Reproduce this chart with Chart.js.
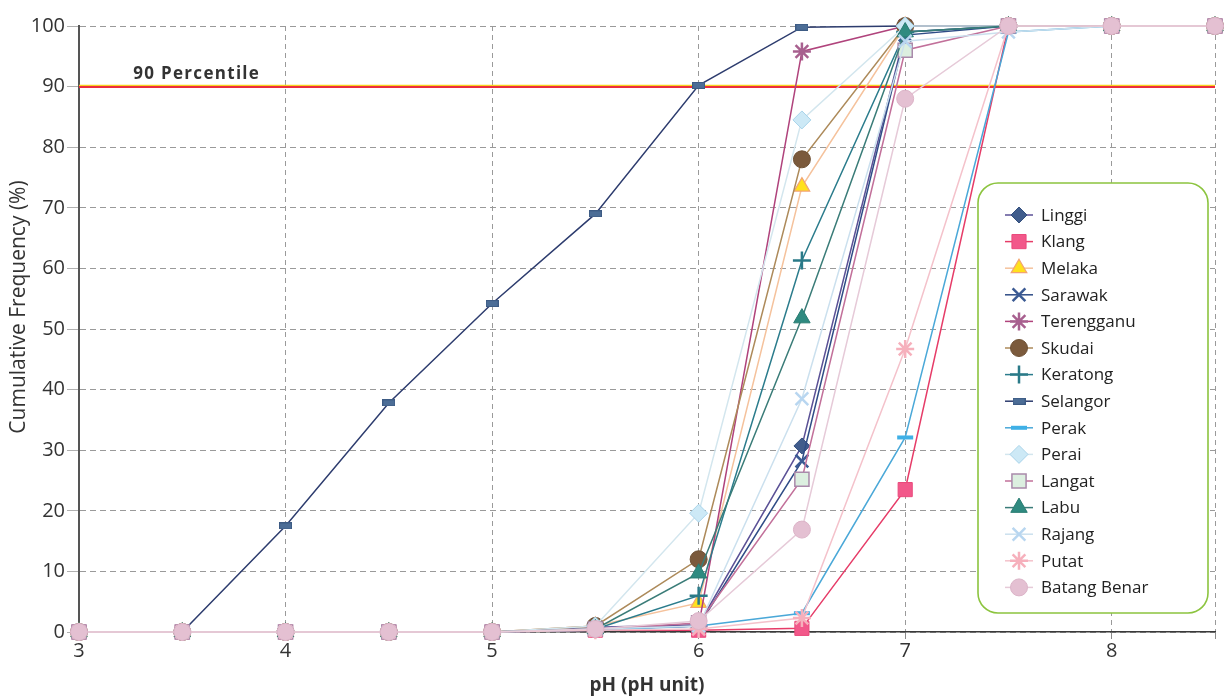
<!DOCTYPE html>
<html>
<head>
<meta charset="utf-8">
<script src="https://cdn.jsdelivr.net/npm/chart.js@4.4.0/dist/chart.umd.min.js"></script>
<style>
  html, body { margin: 0; padding: 0; background: #ffffff; }
  canvas { display: block; }
</style>
</head>
<body>
<canvas id="chart" width="1227" height="698"></canvas>
<script>
// pH classes (x) and cumulative frequency (%) per river basin
const PH = [3, 3.5, 4, 4.5, 5, 5.5, 6, 6.5, 7, 7.5, 8, 8.5];
const X_TICKS = [3, 4, 5, 6, 7, 8];
const Y_TICKS = [0, 10, 20, 30, 40, 50, 60, 70, 80, 90, 100];
const PERCENTILE_90 = 90;
const PERCENTILE_LABEL = '90 Percentile';
const Y_TITLE = 'Cumulative Frequency (%)';
const X_TITLE = 'pH (pH unit)';

const linggi      = [0, 0, 0, 0, 0, 0.8, 1.2, 30.7, 99, 100, 100, 100];
const klang       = [0, 0, 0, 0, 0, 0.3, 0.3, 0.6, 23.5, 100, 100, 100];
const melaka      = [0, 0, 0, 0, 0, 1, 4.8, 73.5, 100, 100, 100, 100];
const sarawak     = [0, 0, 0, 0, 0, 0.5, 1, 28.2, 98.5, 100, 100, 100];
const terengganu  = [0, 0, 0, 0, 0, 0.5, 1, 95.8, 100, 100, 100, 100];
const skudai      = [0, 0, 0, 0, 0, 1, 12, 78, 100, 100, 100, 100];
const keratong    = [0, 0, 0, 0, 0, 0.5, 6, 61.3, 99, 100, 100, 100];
const selangor    = [0, 0, 17.5, 37.8, 54.2, 69, 90.2, 99.8, 100, 100, 100, 100];
const perak       = [0, 0, 0, 0, 0, 0.3, 1, 3.1, 32.1, 99, 100, 100];
const perai       = [0, 0, 0, 0, 0, 1, 19.6, 84.5, 100, 100, 100, 100];
const langat      = [0, 0, 0, 0, 0, 0.5, 1.5, 25.2, 96, 100, 100, 100];
const labu        = [0, 0, 0, 0, 0, 0.5, 9.7, 51.8, 99, 100, 100, 100];
const rajang      = [0, 0, 0, 0, 0, 0.5, 1, 38.5, 97.5, 99, 100, 100];
const putat       = [0, 0, 0, 0, 0, 0.3, 0.5, 2.3, 46.7, 100, 100, 100];
const batangBenar = [0, 0, 0, 0, 0, 0.5, 1.8, 16.9, 88, 100, 100, 100];

// small horizontal bar used as a marker
function barMarker(w, h, fill, stroke) {
  const c = document.createElement('canvas');
  c.width = w; c.height = h;
  const g = c.getContext('2d');
  g.fillStyle = fill; g.fillRect(0, 0, w, h);
  g.strokeStyle = stroke; g.lineWidth = 1; g.strokeRect(0.5, 0.5, w - 1, h - 1);
  return c;
}

const SERIES = [
  { label: 'Linggi',       values: linggi,      line: '#5b5196', fill: '#405c8c', border: '#34507e', style: 'rectRot',  radius: 8, bw: 1 },
  { label: 'Klang',        values: klang,       line: '#e63c68', fill: '#f2588a', border: '#ea4a7c', style: 'rect',     radius: 10, bw: 1 },
  { label: 'Melaka',       values: melaka,      line: '#f5c29c', fill: '#ffe11c', border: '#f2a472', style: 'triangle', radius: 9, bw: 1.2 },
  { label: 'Sarawak',      values: sarawak,     line: '#2f4c86', fill: '#3b5a93', border: '#3b5a93', style: 'crossRot', radius: 9, bw: 2.5 },
  { label: 'Terengganu',   values: terengganu,  line: '#b0437c', fill: '#a8608f', border: '#a8608f', style: 'star',     radius: 9, bw: 2.5 },
  { label: 'Skudai',       values: skudai,      line: '#ad8a5a', fill: '#7b5a3c', border: '#6f5236', style: 'circle',   radius: 8.5, bw: 1 },
  { label: 'Keratong',     values: keratong,    line: '#2b7c8c', fill: '#2a7a88', border: '#2a7a88', style: 'cross',    radius: 9, bw: 2.5 },
  { label: 'Selangor',     values: selangor,    line: '#2d3c6e', fill: '#4c6d96', border: '#3d5b84', style: barMarker(13, 7, '#4c6d96', '#3d5b84'), radius: 7, bw: 1 },
  { label: 'Perak',        values: perak,       line: '#4aa8d8', fill: '#3fb0e6', border: '#3fb0e6', style: 'line',     radius: 8, bw: 4 },
  { label: 'Perai',        values: perai,       line: '#d3e6ee', fill: '#cde9f6', border: '#a9d4ea', style: 'rectRot',  radius: 9, bw: 1 },
  { label: 'Langat',       values: langat,      line: '#c2709a', fill: '#dcefe0', border: '#a98aab', style: 'rect',     radius: 10, bw: 1.5 },
  { label: 'Labu',         values: labu,        line: '#3a7c78', fill: '#2f8a80', border: '#2a7c72', style: 'triangle', radius: 9.5, bw: 1 },
  { label: 'Rajang',       values: rajang,      line: '#cbe0ee', fill: '#b8d6f0', border: '#b8d6f0', style: 'crossRot', radius: 9, bw: 2.5 },
  { label: 'Putat',        values: putat,       line: '#f4c2cb', fill: '#f6b0bc', border: '#f6b0bc', style: 'star',     radius: 9, bw: 2.5 },
  { label: 'Batang Benar', values: batangBenar, line: '#e6cad8', fill: '#e4c0d2', border: '#dcb4c8', style: 'circle',   radius: 8.5, bw: 1 }
];

const FONT = '"Open Sans", "Noto Sans", sans-serif';

// 90th percentile reference line with its caption
const percentilePlugin = {
  id: 'percentile',
  beforeDatasetsDraw(chart) {
    const { ctx, chartArea: a, scales: { x, y } } = chart;
    const py = y.getPixelForValue(PERCENTILE_90);
    ctx.save();
    ctx.lineCap = 'butt';
    ctx.strokeStyle = '#f6d21e';
    ctx.lineWidth = 1.2;
    ctx.beginPath(); ctx.moveTo(a.left, py - 1.3); ctx.lineTo(a.right, py - 1.3); ctx.stroke();
    ctx.strokeStyle = '#ec2d3d';
    ctx.lineWidth = 2.2;
    ctx.beginPath(); ctx.moveTo(a.left, py + 0.4); ctx.lineTo(a.right, py + 0.4); ctx.stroke();
    ctx.font = 'bold 17px ' + FONT;
    ctx.letterSpacing = '1.3px';
    ctx.fillStyle = '#333333';
    ctx.textAlign = 'center';
    ctx.textBaseline = 'alphabetic';
    ctx.fillText(PERCENTILE_LABEL, x.getPixelForValue(3.57), py - 8);
    ctx.restore();
  }
};

// rotated y-axis caption
const yTitlePlugin = {
  id: 'yTitle',
  afterDraw(chart) {
    const ctx = chart.ctx;
    ctx.save();
    ctx.translate(19, 307);
    ctx.rotate(-Math.PI / 2);
    ctx.font = '21px ' + FONT;
    ctx.fillStyle = '#333333';
    ctx.textAlign = 'center';
    ctx.textBaseline = 'middle';
    ctx.fillText(Y_TITLE, 0, 0);
    ctx.restore();
  }
};

// boxed legend inside the plot
const boxLegendPlugin = {
  id: 'boxLegend',
  afterDraw(chart) {
    const ctx = chart.ctx;
    const box = { left: 978, top: 183, width: 230, height: 430, r: 20 };
    ctx.save();
    ctx.beginPath();
    ctx.roundRect(box.left, box.top, box.width, box.height, box.r);
    ctx.fillStyle = '#ffffff';
    ctx.fill();
    ctx.lineWidth = 1.6;
    ctx.strokeStyle = '#8cc43f';
    ctx.stroke();
    const rowY0 = 215, step = 26.6;
    const lx0 = 1005, lx1 = 1033, mx = 1019, tx = 1041;
    chart.data.datasets.forEach((ds, i) => {
      const yy = rowY0 + i * step;
      ctx.strokeStyle = ds.borderColor;
      ctx.lineWidth = 1.5;
      ctx.beginPath(); ctx.moveTo(lx0, yy); ctx.lineTo(lx1, yy); ctx.stroke();
      ctx.fillStyle = ds.pointBackgroundColor;
      ctx.strokeStyle = ds.pointBorderColor;
      ctx.lineWidth = ds.pointBorderWidth;
      Chart.helpers.drawPoint(ctx, {
        pointStyle: ds.pointStyle, radius: ds.pointRadius, rotation: 0, borderWidth: ds.pointBorderWidth
      }, mx, yy);
      ctx.fillStyle = '#222222';
      ctx.font = '17px ' + FONT;
      ctx.textAlign = 'left';
      ctx.textBaseline = 'middle';
      ctx.fillText(ds.label, tx, yy + 1);
    });
    ctx.restore();
  }
};

const datasets = SERIES.map((s, i) => ({
  label: s.label,
  data: PH.map((ph, k) => ({ x: ph, y: s.values[k] })),
  borderColor: s.line,
  borderWidth: 1.5,
  backgroundColor: s.fill,
  pointStyle: s.style,
  pointRadius: s.radius,
  pointHoverRadius: s.radius,
  pointBackgroundColor: s.fill,
  pointBorderColor: s.border,
  pointBorderWidth: s.bw,
  tension: 0,
  fill: false,
  clip: false,
  order: -i
}));

new Chart(document.getElementById('chart'), {
  type: 'line',
  data: { datasets },
  options: {
    responsive: false,
    animation: false,
    devicePixelRatio: 1,
    layout: { padding: { left: 0, right: 10, top: 26, bottom: 0 } },
    plugins: {
      legend: { display: false },
      tooltip: { enabled: false }
    },
    scales: {
      x: {
        type: 'linear',
        min: 3,
        max: 8.5,
        afterBuildTicks(scale) {
          scale.ticks = X_TICKS.concat([8.5]).map(v => ({ value: v }));
        },
        afterFit(scale) { scale.height = 66; },
        ticks: {
          callback: v => (X_TICKS.includes(v) ? String(v) : ''),
          font: { family: FONT, size: 20 },
          color: '#333333',
          padding: 0,
          maxRotation: 0,
          autoSkip: false
        },
        grid: { color: '#9a9a9a', lineWidth: 1, tickLength: 7, tickColor: '#8a8a8a' },
        border: { display: true, color: '#3a3a3a', width: 1.5, dash: [5, 4] },
        title: {
          display: true,
          text: X_TITLE,
          font: { family: FONT, size: 19, weight: 'bold' },
          color: '#333333',
          padding: { top: 0, bottom: 1 }
        }
      },
      y: {
        min: 0,
        max: 100,
        afterBuildTicks(scale) {
          scale.ticks = Y_TICKS.map(v => ({ value: v }));
        },
        afterFit(scale) { scale.width = 79; },
        ticks: {
          font: { family: FONT, size: 20 },
          color: '#333333',
          padding: 2
        },
        grid: { color: '#9a9a9a', lineWidth: 1, tickLength: 12, tickColor: '#b0b0b0' },
        border: { display: true, color: '#555555', width: 2, dash: [6, 4] },
        title: { display: false }
      }
    }
  },
  plugins: [percentilePlugin, yTitlePlugin, boxLegendPlugin]
});
</script>
</body>
</html>
